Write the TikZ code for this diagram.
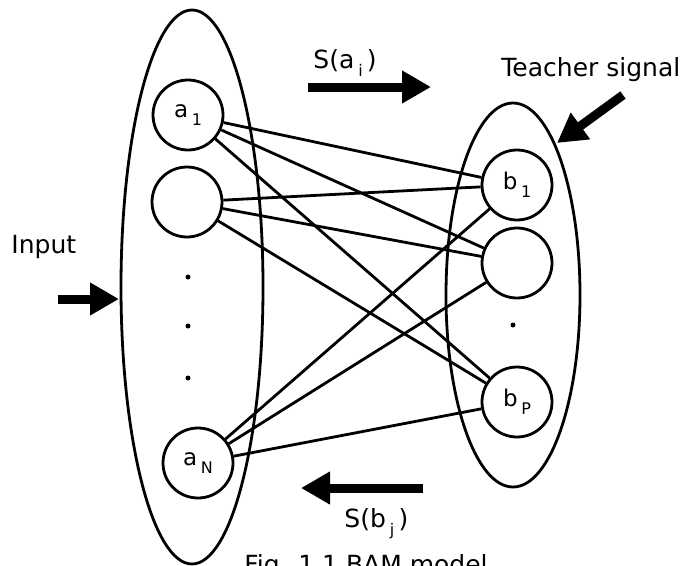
\documentclass[tikz,border=0pt]{standalone}
\usepackage{fontspec}
\setmainfont{DejaVu Sans}
\usetikzlibrary{shapes.geometric,arrows.meta}
\newcommand\sbs[1]{\kern0.16em\raisebox{-0.34em}{\fontsize{16}{16}\selectfont #1}}
\begin{document}
\begin{tikzpicture}[x=1pt,y=-1pt, line width=2.8pt,
 layer/.style={draw, ellipse, inner sep=0pt},
 unit/.style={draw, circle, minimum size=70pt, inner sep=0pt, font=\fontsize{23}{23}\selectfont},
 link/.style={line width=2.8pt},
 bigarrow/.style={line width=9pt, -{Triangle[length=29pt,width=31pt]}},
 lbl/.style={font=\fontsize{25}{25}\selectfont, inner sep=0pt, anchor=base west},
 dotn/.style={circle, fill, inner sep=0pt, minimum size=5pt}]
\useasboundingbox (0,0) rectangle (690,565);
\clip (0,0) rectangle (690,565);
\node[layer, minimum width=142pt, minimum height=554pt] (L) at (192,287) {};
\node[layer, minimum width=134pt, minimum height=384pt] (R) at (513,295) {};
\node[unit] (a1) at (188,115) {a\sbs{1}};
\node[unit] (a2) at (187,202) {};
\node[unit] (aN) at (198,463) {a\sbs{N}};
\node[unit] (b1) at (517,185) {b\sbs{1}};
\node[unit] (b2) at (517,263) {};
\node[unit] (bP) at (517,402) {b\sbs{P}};
\node[dotn] (d1) at (188,277) {};
\node[dotn] (d2) at (188,326) {};
\node[dotn] (d3) at (188,378) {};
\node[dotn] (d4) at (513,325) {};
\foreach \s in {a1,a2,aN}
  \foreach \t in {b1,b2,bP}
    \draw[link] (\s) -- (\t);
\coordinate (sa0) at (308,87);
\coordinate (sa1) at (431,87);
\coordinate (sb0) at (423,488);
\coordinate (sb1) at (301,488);
\coordinate (in0) at (58,299);
\coordinate (in1) at (119,299);
\coordinate (te0) at (623,95);
\coordinate (te1) at (557,143);
\draw[bigarrow] (sa0) -- (sa1);
\draw[bigarrow] (sb0) -- (sb1);
\draw[bigarrow] (in0) -- (in1);
\draw[bigarrow] (te0) -- (te1);
\node[lbl] (tsa) at (312,68) {S(a\sbs{i}\,)};
\node[lbl] (tte) at (500,76) {Teacher signal};
\node[lbl] (tin) at (10,253) {Input};
\node[lbl] (tsb) at (343,527) {S(b\sbs{j}\,)};
\node[lbl] (cap) at (243,573) {Fig. 1.1 BAM model};
\end{tikzpicture}
\end{document}
